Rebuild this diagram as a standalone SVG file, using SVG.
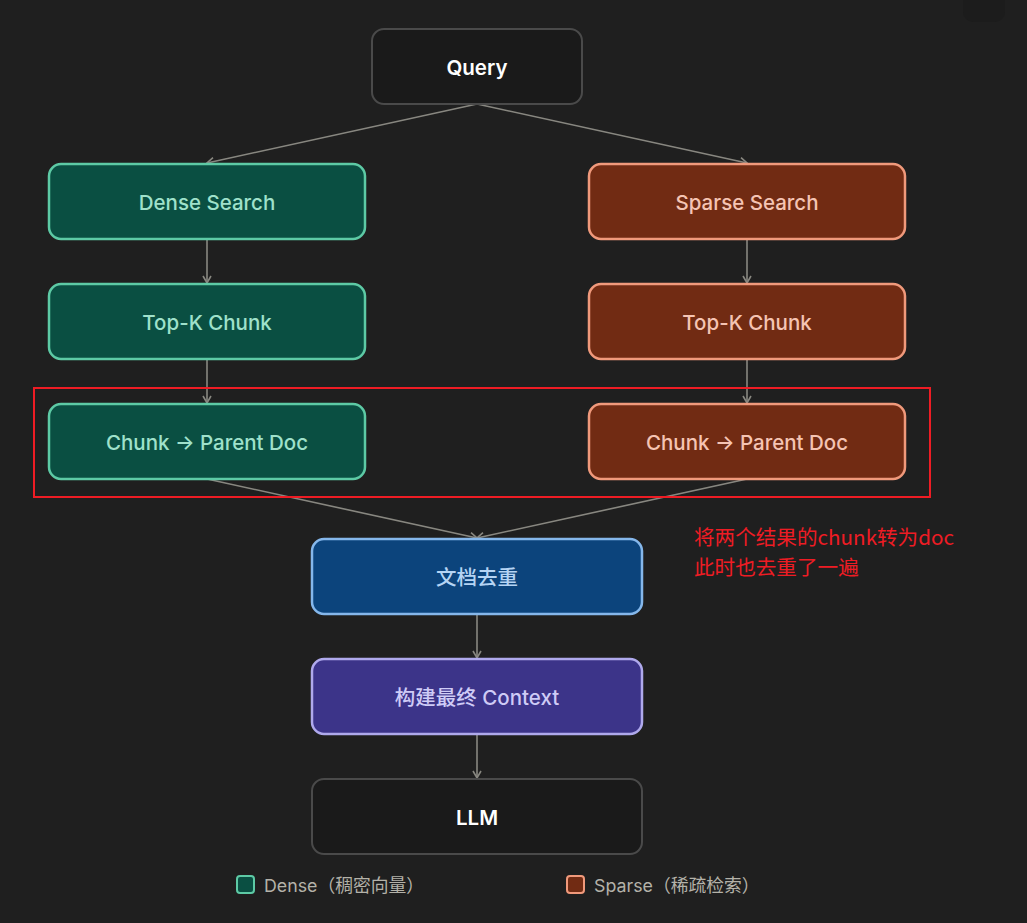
<svg xmlns="http://www.w3.org/2000/svg" width="1027" height="923" viewBox="0 0 1027 923">
<defs>
<style>
.lbl{font-family:Inter,"Noto Sans","Noto Sans CJK SC",sans-serif;font-size:20.5px;font-weight:500;text-anchor:middle;dominant-baseline:central}
.dark rect{fill:#1a1a1a;stroke:#4a4a4a;stroke-width:2}
.dark text{fill:#ffffff;font-weight:600}
.teal rect{fill:#0a4f42;stroke:#5dcaa5;stroke-width:2.5}
.teal text{fill:#9fe1cb}
.coral rect{fill:#712b13;stroke:#f0997b;stroke-width:2.5}
.coral text{fill:#f5c4b3}
.blue rect{fill:#0c447c;stroke:#85b7eb;stroke-width:2.5}
.blue text{fill:#b5d4f4}
.purple rect{fill:#3c3489;stroke:#afa9ec;stroke-width:2.5}
.purple text{fill:#cecbf6}
.edge{stroke:#888780;stroke-width:1.6;fill:none;marker-end:url(#arr)}
.note{font-family:"Noto Sans CJK SC","Noto Sans",sans-serif;font-size:20.6px;fill:#ee1c24}
.leg{font-family:Inter,"Noto Sans CJK SC",sans-serif;font-size:17.8px;fill:#b4b2a9;dominant-baseline:central}
</style>
<marker id="arr" viewBox="0 0 10 10" refX="8" refY="5" markerWidth="10" markerHeight="10" markerUnits="userSpaceOnUse" orient="auto">
<path d="M1 1L8 5L1 9" fill="none" stroke="#888780" stroke-width="1.6"/>
</marker>
</defs>
<rect width="1027" height="923" fill="#1f1f1f"/>
<rect x="963" y="-12" width="42" height="34" rx="10" fill="#1c1c1c"/>
<g id="connectors">
<path class="edge" d="M477 104L207 163"/>
<path class="edge" d="M477 104L747 163"/>
<path class="edge" d="M207 239L207 283"/>
<path class="edge" d="M747 239L747 283"/>
<path class="edge" d="M207 359L207 403"/>
<path class="edge" d="M747 359L747 403"/>
<path class="edge" d="M207 479L477 538"/>
<path class="edge" d="M747 479L477 538"/>
<path class="edge" d="M477 614L477 658"/>
<path class="edge" d="M477 734L477 778"/>
</g>
<g id="query" class="dark"><rect x="372" y="29" width="210" height="75" rx="12"/><text class="lbl" x="477" y="67">Query</text></g>
<g id="dense-search" class="teal"><rect x="49" y="164" width="316" height="75" rx="12"/><text class="lbl" x="207" y="202">Dense Search</text></g>
<g id="dense-topk" class="teal"><rect x="49" y="284" width="316" height="75" rx="12"/><text class="lbl" x="207" y="322">Top-K Chunk</text></g>
<g id="dense-parent" class="teal"><rect x="49" y="404" width="316" height="75" rx="12"/><text class="lbl" x="207" y="442">Chunk → Parent Doc</text></g>
<g id="sparse-search" class="coral"><rect x="589" y="164" width="316" height="75" rx="12"/><text class="lbl" x="747" y="202">Sparse Search</text></g>
<g id="sparse-topk" class="coral"><rect x="589" y="284" width="316" height="75" rx="12"/><text class="lbl" x="747" y="322">Top-K Chunk</text></g>
<g id="sparse-parent" class="coral"><rect x="589" y="404" width="316" height="75" rx="12"/><text class="lbl" x="747" y="442">Chunk → Parent Doc</text></g>
<g id="dedup" class="blue"><rect x="312" y="539" width="330" height="75" rx="12"/><text class="lbl" x="477" y="577">文档去重</text></g>
<g id="context" class="purple"><rect x="312" y="659" width="330" height="75" rx="12"/><text class="lbl" x="477" y="697">构建最终 Context</text></g>
<g id="llm" class="dark"><rect x="312" y="779" width="330" height="75" rx="12"/><text class="lbl" x="477" y="817">LLM</text></g>
<g id="annotation">
<rect x="34" y="388" width="896" height="109" fill="none" stroke="#ee1c24" stroke-width="2"/>
<text class="note" x="694" y="545">将两个结果的chunk转为doc</text>
<text class="note" x="694" y="575">此时也去重了一遍</text>
</g>
<g id="legend">
<rect x="237" y="876" width="17" height="17" rx="3" fill="#0a4f42" stroke="#5dcaa5" stroke-width="2"/>
<text class="leg" x="264" y="885">Dense（稠密向量）</text>
<rect x="567" y="876" width="17" height="17" rx="3" fill="#712b13" stroke="#f0997b" stroke-width="2"/>
<text class="leg" x="594" y="885">Sparse（稀疏检索）</text>
</g>
</svg>
